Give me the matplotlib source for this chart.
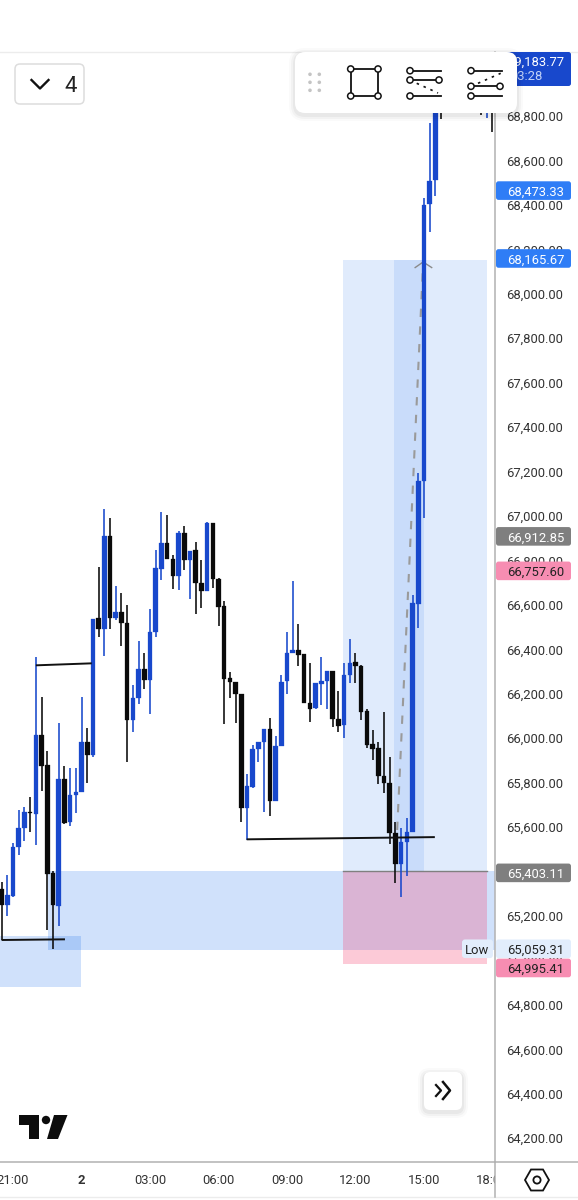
import matplotlib
matplotlib.use("Agg")
import matplotlib.pyplot as plt
from matplotlib.patches import FancyBboxPatch, Polygon, Circle, Rectangle
from matplotlib.transforms import Bbox

plt.rcParams['font.family'] = ['Roboto', 'DejaVu Sans']

W, H = 578, 1200

# 15-minute candles; index 0 is 00:00 on the 2nd
first_index = -14
opens = [65322,65250,65290,65511,65596,65669,65659,66014,65880,65393,65246,65817,65624,65745,
         65759,65984,65924,66541,66492,66910,66541,66569,66518,66082,66181,66312,66262,66478,66762,
         66880,66807,66730,66923,66802,66847,66698,66662,66968,66716,66595,66271,66254,66199,
         65687,65782,65950,65984,66042,65719,65965,66257,66385,66397,66378,66160,66136,66245,66257,
         66302,66086,66060,66284,66343,66326,66122,65974,65956,65831,65800,65575,65434,65534,65579,
         66604,67158,68404,68512,68908,68881,68962,68917,68953,68944,68962,68998,68944,69290]
closes = [65250,65294,65512,65596,65668,65665,66014,65876,65389,65250,65817,65620,65745,65760,
          65984,65924,66536,66492,66910,66542,66569,66518,66082,66182,66312,66262,66479,66766,66880,
          66807,66730,66923,66802,66844,66698,66662,66968,66716,66592,66266,66254,66199,65686,
          65785,65952,65984,66042,65719,65965,66254,66385,66397,66375,66160,66130,66248,66259,66302,
          66086,66056,66284,66340,66326,66119,65970,65953,65831,65798,65573,65434,65534,65578,66608,
          67158,68400,68507,68895,68836,68926,68908,68971,68908,68989,69007,68926,69016,69183.77]
highs = [65354,65384,65528,65677,65692,65737,66367,66187,65942,65402,66068,65876,65866,65866,
         66185,66046,66536,66770,67031,66991,66685,66654,66600,66240,66437,66384,66582,66847,67018,
         67004,66825,66934,66955,66844,66884,66802,66974,66968,66721,66619,66298,66254,66199,
         65839,65970,65984,66042,66091,66011,66284,66478,66708,66514,66379,66338,66248,66367,66302,
         66302,66212,66338,66446,66384,66330,66131,66037,65984,66118,65915,65624,65596,65642,66644,
         67195,68431,68768,68917,68962,68984,69007,69016,68998,69025,69034,69025,69052,69320]
lows = [65092,65201,65285,65474,65538,65578,65520,65764,65137,65052,65156,65614,65606,65665,
        65759,65800,65917,66456,66371,66492,66532,66416,65894,66029,66154,66222,66109,66456,66712,
        66807,66672,66667,66757,66626,66559,66586,66662,66676,66506,66064,66182,66068,65624,
        65542,65777,65894,65669,65651,65719,65965,66199,66385,66325,66160,66073,66131,66150,66131,
        66050,66029,66001,66248,66248,66082,65957,65902,65794,65753,65524,65350,65285,65380,65579,
        66496,66991,68278,68440,68786,68845,68863,68872,68854,68881,68890,68804,68791,68730]

# x tick positions (candle index) and labels
tick_idx = [-12, 0, 12, 24, 36, 48, 60, 72]
tick_labels = ['21:00', '2', '03:00', '06:00', '09:00', '12:00', '15:00', '18:00']
price_ticks = list(range(64200, 69000, 200))

# zones: index-from, index-to, price-low, price-high
fvg_main = (-5.87, 72.44, 65049, 65402)
fvg_left = (-14.28, -0.09, 64882, 65110)
pos_left, pos_right = 45.8, 71.0
pos_inner_left, pos_inner_right = 54.75, 60.0
pos_target, pos_entry, pos_stop = 68150, 65403.11, 64984

# swing lines (index, price) pairs
swing_lines = [((-8, 1.79), (66328, 66337)),
               ((-14, -2.9), (65092, 65095)),
               ((28.94, 61.9), (65545, 65555))]
path_idx, path_price = (55.3, 59.85), (65587, 68143)

# price tags: value, fill, text colour, pixel nudge
price_tags = [(68473.33, '#2f7df6', 'white', 2.0),
              (68165.67, '#2f7df6', 'white', 1.5),
              (66912.85, '#7f7f7f', 'white', 1.0),
              (66757.60, '#f78db2', '#222222', 1.0),
              (65403.11, '#7f7f7f', 'white', 2.0),
              (65059.31, '#e2edfc', '#222222', 1.5),
              (64995.41, '#f78db2', '#222222', 6.5)]

BLUE = '#1848cc'
BLACK = '#0a0a0a'
TXT = '#333333'
FS = 9.4

fig = plt.figure(figsize=(W / 100, H / 100), dpi=100, facecolor='white')
ax = fig.add_axes([0, (H - 1162) / H, 495 / W, (1162 - 52) / H])
ax.set_xlim(-14.28, 72.44)
ax.set_ylim(64093, 69088)

# zones
def zone(x0, x1, y0, y1, color, alpha, z):
    ax.add_patch(Rectangle((x0, y0), x1 - x0, y1 - y0, facecolor=color, alpha=alpha, lw=0, zorder=z))

BLU = '#1469eb'
zone(fvg_main[0], fvg_main[1], fvg_main[2], fvg_main[3], BLU, 0.2, 1)
zone(fvg_left[0], fvg_left[1], fvg_left[2], fvg_left[3], BLU, 0.2, 1)
zone(pos_left, pos_right, pos_entry, pos_target, BLU, 0.13, 1.2)
zone(pos_inner_left, pos_inner_right, pos_entry, pos_target, BLU, 0.11, 1.3)
zone(pos_left, pos_right, pos_stop, pos_entry, '#f53c6e', 0.27, 1.4)
ax.plot([pos_left, pos_right], [pos_entry, pos_entry], color='#808080', lw=1.0, zorder=1.5)

# dashed path and arrowhead
ax.plot(path_idx, path_price, color='#9a9a9a', lw=1.5, dashes=(4, 4.5), zorder=1.8)
ax.plot([path_idx[1] - 1.4, path_idx[1], path_idx[1] + 1.5],
        [path_price[1] - 25, path_price[1], path_price[1] - 25], color='#8a8a8a', lw=1.0, zorder=1.8)

# candles
xs = [first_index + k for k in range(len(opens))]
cols = [BLUE if c >= o else BLACK for o, c in zip(opens, closes)]
ax.vlines(xs, lows, highs, colors=cols, lw=1.15, zorder=3)
ax.bar(xs, [abs(c - o) for o, c in zip(opens, closes)], bottom=[min(o, c) for o, c in zip(opens, closes)],
       width=0.8, color=cols, edgecolor=cols, linewidth=0.2, zorder=3.2)

# swing lines
for lx, ly in swing_lines:
    ax.plot(lx, ly, color='#111111', lw=1.4, zorder=3.5, solid_capstyle='butt')

# axes
for s in ['top', 'left']:
    ax.spines[s].set_visible(False)
ax.spines['right'].set_color('#b2b2b2')
ax.spines['bottom'].set_color('#b2b2b2')
ax.spines['right'].set_linewidth(1.1)
ax.spines['bottom'].set_linewidth(1.1)
ax.yaxis.tick_right()
ax.set_yticks(price_ticks)
ax.set_yticklabels([f'{p:,.2f}' for p in price_ticks], fontsize=FS, color=TXT)
ax.set_xticks(tick_idx)
ax.set_xticklabels(tick_labels, fontsize=FS, color=TXT)
ax.tick_params(axis='both', length=0)
ax.tick_params(axis='y', pad=8.0)
ax.tick_params(axis='x', pad=8.5)
clip = Bbox.from_extents(0, 0, 495, H)
for lab in ax.get_xticklabels():
    lab.set_clip_on(True)
    lab.set_clip_box(clip)
ax.get_xticklabels()[1].set_fontweight('bold')

# overlay in pixel space for chart chrome
ov = fig.add_axes([0, 0, 1, 1], zorder=10)
ov.set_xlim(0, W)
ov.set_ylim(H, 0)
ov.axis('off')
ov.patch.set_alpha(0)

def to_px(price):
    y0, y1 = ax.get_ylim()
    return 52 + (y1 - price) / (y1 - y0) * 1110

def rbox(x0, y0, x1, y1, r, fc, ec='none', lw=0, z=5):
    p = FancyBboxPatch((x0 + r, y0 + r), x1 - x0 - 2 * r, y1 - y0 - 2 * r,
                       boxstyle=f'round,pad={r},rounding_size={r}', fc=fc, ec=ec, lw=lw, zorder=z)
    ov.add_patch(p)
    return p

def shadow(x0, y0, x1, y1, r, z):
    for k, a in zip((6, 4, 2), (0.02, 0.03, 0.04)):
        rbox(x0 - k, y0 - k + 2, x1 + k, y1 + k + 2, r + k, (0, 0, 0, a), z=z)

# frame lines
ov.plot([0, W], [51.5, 51.5], color='#ececec', lw=1, zorder=1)
ov.plot([0, W], [1197, 1197], color='#ececec', lw=1, zorder=1)
ov.plot([495, 495], [1162, 1197], color='#b2b2b2', lw=1.1, zorder=1)
ov.plot([495, W], [1162, 1162], color='#b2b2b2', lw=1.1, zorder=1)

# price tags
for val, fc, tc, nudge in price_tags:
    yc = to_px(val) + nudge
    rbox(496, yc - 9.3, 571, yc + 9.3, 2.5, fc, z=2)
    ov.text(507, yc, f'{val:,.2f}', color=tc, fontsize=FS, va='center_baseline', ha='left', zorder=3)
yl = to_px(65059.31) + 1.5
rbox(462, yl - 9.3, 493, yl + 9.3, 3, '#e2edfc', z=2)
ov.text(477.5, yl, 'Low', color='#222222', fontsize=FS, va='center_baseline', ha='center', zorder=3)

# last price tag, clamped to the chart top
rbox(496, 52, 571, 86, 2.5, BLUE, z=2)
ov.text(507, 61, '69,183.77', color='white', fontsize=FS, va='center_baseline', zorder=3)
ov.text(510, 75.5, '03:28', color='#c3d3f7', fontsize=FS, va='center_baseline', zorder=3)

# toolbar
shadow(295, 52, 517, 113, 10, 5)
rbox(295, 52, 517, 113, 10, 'white', z=6)
for dx in (310, 319.3):
    for dy in (74.3, 82.3, 90.3):
        ov.add_patch(Circle((dx, dy), 1.8, fc='#c4c4c4', ec='none', zorder=7))

def seg(x0, y0, x1, y1, lw=1.3, color='#111111', z=7, **kw):
    ov.plot([x0, x1], [y0, y1], color=color, lw=lw, zorder=z, **kw)

def knob(x, y, r=3.1):
    ov.add_patch(Circle((x, y), r, fc='white', ec='#111111', lw=1.1, zorder=8))

cx = [350.7, 378, 378, 350.7, 350.7]
cy = [69, 69, 96, 96, 69]
for k in range(4):
    seg(cx[k], cy[k], cx[k + 1], cy[k + 1])
    knob(cx[k], cy[k])
seg(410, 70.7, 441, 70.7); knob(410, 70.7)
seg(410, 80, 439, 80); knob(410, 80); knob(439, 80)
seg(410, 96, 441, 96); knob(410, 96)
seg(416.7, 83.3, 438, 93, lw=1.2, linestyle=(0, (1.5, 3)))
seg(471, 70.7, 502, 70.7); knob(471, 70.7)
seg(471, 86.3, 500, 86.3); knob(471, 86.3); knob(500, 86.3)
seg(471, 96, 502, 96); knob(471, 96)
seg(478, 83.3, 500.7, 73.3, lw=1.2, linestyle=(0, (1.5, 3)))

# dropdown
rbox(15, 64, 84, 104, 5, 'white', ec='#dddddd', lw=1.1, z=5)
ov.plot([31.5, 40, 48.5], [80, 88.5, 80], color='#111111', lw=1.7, zorder=6)
ov.text(70.5, 84, '4', fontsize=16, color='#222222', ha='center', va='center_baseline', zorder=6)

# go-to-realtime button
shadow(424, 1072, 462, 1110, 6, 5)
rbox(424, 1072, 462, 1110, 6, 'white', z=6)
ov.plot([436, 441, 436], [1085, 1090.5, 1096], color='#111111', lw=1.6, zorder=7)
ov.plot([443, 450, 443], [1082, 1090.5, 1099], color='#111111', lw=1.8, zorder=7)

# logo
ov.add_patch(Polygon([(19, 1115), (39, 1115), (39, 1139), (29, 1139), (29, 1125), (19, 1125)],
                     closed=True, fc='#0c0c0c', ec='none', zorder=6))
ov.add_patch(Circle((46, 1120), 4.2, fc='#0c0c0c', ec='none', zorder=6))
ov.add_patch(Polygon([(54, 1115), (67.5, 1115), (58, 1139), (47, 1139)],
                     closed=True, fc='#0c0c0c', ec='none', zorder=6))

# settings hexagon
ov.add_patch(Polygon([(525, 1180), (531, 1169.5), (543, 1169.5), (549, 1180), (543, 1190.5), (531, 1190.5)],
                     closed=True, fc='white', ec='#111111', lw=1.3, zorder=6))
ov.add_patch(Circle((537, 1180), 3.6, fc='white', ec='#111111', lw=1.3, zorder=7))

fig.savefig('out.png', dpi=100, facecolor='white')
